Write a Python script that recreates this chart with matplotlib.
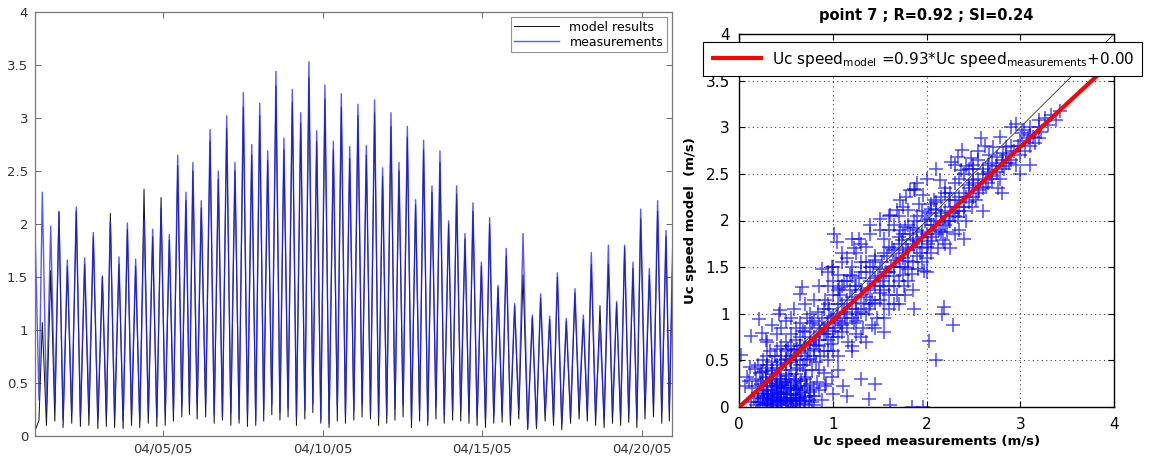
import numpy as np
import matplotlib
matplotlib.use("Agg")
import matplotlib.pyplot as plt
import matplotlib.dates as mdates
from matplotlib.ticker import FuncFormatter, MultipleLocator

plt.rcParams['font.family'] = ['DejaVu Sans']

# ---- time series (hours since 04/01/05 00:00) ----
start_hour = 0.0
start_model = 0.05
start_meas = 1.97

trough_hours = [3.0, 8.6, 14.9, 21.1, 27.6, 34.1, 40.5, 47.2, 53.6, 59.8,
                66.2, 72.5, 78.7, 85.1, 91.5, 97.8, 104.0, 110.3, 116.0, 121.8,
                128.2, 134.6, 140.8, 147.1, 153.3, 159.6, 165.8, 171.8, 177.9, 184.0,
                190.1, 196.4, 202.7, 208.7, 214.7, 220.9, 227.1, 233.2, 239.5, 245.7,
                252.0, 258.1, 264.2, 270.4, 276.5, 282.8, 288.9, 295.0, 301.2, 307.4,
                313.7, 319.8, 326.0, 332.1, 338.4, 344.6, 350.9, 357.1, 363.4, 370.1,
                376.7, 383.2, 389.5, 395.7, 402.3, 408.7, 414.9, 421.1, 427.5, 433.8,
                439.9, 446.0, 452.1, 458.2, 464.6, 470.8, 476.5]
peak_hours = [5.5, 11.8, 18.0, 24.3, 31.0, 37.3, 43.8, 50.6, 56.6, 63.1,
              69.4, 75.6, 81.9, 88.4, 94.7, 100.9, 107.2, 113.4, 118.6, 124.9,
              131.5, 137.7, 144.0, 150.2, 156.5, 162.8, 168.8, 174.8, 181.0, 187.0,
              193.3, 199.6, 205.8, 211.6, 217.8, 224.1, 230.1, 236.4, 242.6, 248.9,
              255.1, 261.1, 267.4, 273.4, 279.7, 285.9, 291.9, 298.2, 304.2, 310.7,
              316.7, 323.0, 329.0, 335.3, 341.5, 347.8, 354.0, 360.3, 366.6, 373.6,
              379.8, 386.6, 392.4, 399.1, 405.6, 411.9, 417.9, 424.4, 430.7, 436.9,
              442.9, 449.2, 455.0, 461.5, 467.7, 474.0, 479.0]

meas_peaks = [2.30, 1.98, 2.11, 1.66, 2.16, 1.68, 1.92, 1.51, 2.02, 1.69,
              2.01, 1.67, 2.05, 1.95, 2.15, 1.90, 2.65, 2.30, 2.58, 2.22,
              2.89, 2.50, 3.02, 2.58, 3.24, 2.75, 3.14, 2.69, 3.44, 2.81,
              3.27, 3.05, 3.53, 2.88, 3.31, 2.78, 3.23, 2.73, 3.13, 2.74,
              3.17, 2.53, 3.05, 2.58, 2.92, 2.23, 2.79, 2.36, 2.69, 2.03,
              2.36, 1.91, 2.20, 1.64, 2.06, 1.42, 1.77, 1.25, 1.91, 1.14,
              1.34, 1.13, 1.54, 1.11, 1.39, 1.14, 1.73, 1.05, 1.80, 1.27,
              1.80, 1.64, 2.14, 1.58, 2.22, 1.94, 1.78]
model_peaks = [1.07, 1.56, 2.12, 1.60, 2.12, 1.62, 1.88, 1.50, 2.10, 1.62,
               1.95, 1.60, 2.33, 1.88, 2.25, 1.85, 2.55, 2.22, 2.50, 2.15,
               2.78, 2.42, 2.90, 2.50, 3.10, 2.65, 3.02, 2.60, 3.30, 2.70,
               3.15, 2.95, 3.38, 2.78, 3.18, 2.70, 3.10, 2.62, 3.02, 2.65,
               3.05, 2.45, 2.92, 2.50, 2.82, 2.18, 2.70, 2.30, 2.58, 2.00,
               2.28, 1.86, 2.12, 1.60, 2.00, 1.40, 1.70, 1.23, 1.52, 1.12,
               1.30, 1.10, 1.50, 1.08, 1.35, 1.10, 1.62, 1.23, 1.62, 1.25,
               1.78, 1.58, 2.05, 1.52, 2.12, 1.88, 1.70]
meas_troughs = [0.34, 0.28, 0.30, 0.16, 0.22, 0.18, 0.26, 0.17, 0.21, 0.19,
                0.15, 0.20, 0.14, 0.22, 0.18, 0.24, 0.25, 0.28, 0.30, 0.32,
                0.30, 0.20, 0.18, 0.22, 0.16, 0.20, 0.14, 0.25, 0.30, 0.22,
                0.26, 0.18, 0.24, 0.30, 0.15, 0.12, 0.28, 0.20, 0.24, 0.30,
                0.22, 0.18, 0.20, 0.26, 0.30, 0.16, 0.24, 0.14, 0.28, 0.20,
                0.24, 0.26, 0.22, 0.18, 0.16, 0.20, 0.22, 0.18, 0.25, 0.08,
                0.10, 0.22, 0.18, 0.12, 0.20, 0.28, 0.24, 0.20, 0.16, 0.22,
                0.18, 0.22, 0.16, 0.28, 0.30, 0.24, 0.26]
model_troughs = [0.15, 0.10, 0.14, 0.08, 0.12, 0.09, 0.10, 0.07, 0.09, 0.08,
                 0.07, 0.10, 0.08, 0.12, 0.09, 0.10, 0.14, 0.18, 0.20, 0.16,
                 0.18, 0.12, 0.15, 0.10, 0.12, 0.09, 0.10, 0.14, 0.20, 0.15,
                 0.18, 0.10, 0.16, 0.22, 0.12, 0.08, 0.14, 0.12, 0.15, 0.18,
                 0.16, 0.10, 0.12, 0.15, 0.18, 0.08, 0.14, 0.10, 0.16, 0.12,
                 0.15, 0.14, 0.12, 0.10, 0.08, 0.12, 0.13, 0.10, 0.16, 0.06,
                 0.07, 0.14, 0.10, 0.06, 0.12, 0.16, 0.14, 0.10, 0.08, 0.12,
                 0.10, 0.13, 0.08, 0.16, 0.18, 0.12, 0.14]

scatter_meas = [
    0.18, 0.22, 0.25, 0.27, 0.30, 0.31, 0.33, 0.34, 0.36, 0.37, 0.38, 0.40, 0.41, 0.42,
    0.44, 0.45, 0.46, 0.47, 0.48, 0.50, 0.51, 0.52, 0.54, 0.55, 0.57, 0.58, 0.60, 0.62,
    0.63, 0.65, 0.67, 0.69, 0.70, 0.72, 0.74, 0.76, 0.78, 0.80, 0.29, 0.26, 0.23, 0.20,
    0.16, 0.14, 0.12, 0.33, 0.39, 0.43, 0.35, 0.28, 0.49, 0.53, 0.58, 0.61, 0.66, 0.71,
    0.40, 0.44, 0.31, 0.52, 0.36, 0.48, 0.56, 0.64, 0.85, 0.88, 0.92, 0.83, 0.18, 0.24,
    0.02, 0.08, 0.11, 0.13, 0.21, 0.24, 0.28, 0.35, 0.42, 0.43, 0.30, 0.40, 0.45, 0.50,
    0.55, 0.60, 0.62, 0.66, 0.70, 0.73, 0.76, 0.80, 0.82, 0.86, 0.90, 0.93, 0.95, 0.98,
    0.50, 0.55, 0.60, 0.52, 0.45, 0.38, 0.33, 0.25, 0.20, 0.17, 0.22, 0.29, 0.58, 0.54,
    0.65, 0.68, 0.72, 0.75, 0.78, 0.84, 0.88, 0.62, 0.68, 0.72, 0.78, 0.82, 0.86, 0.90,
    0.93, 0.99, 0.95, 0.98, 0.67, 0.65, 0.58, 0.50, 0.40, 0.06, 0.10,
    1.00, 1.02, 1.04, 1.05, 1.07, 1.08, 1.10, 1.12, 1.13, 1.15, 1.16, 1.18, 1.20, 1.22,
    1.23, 1.25, 1.27, 1.28, 1.30, 1.32, 1.33, 1.35, 1.37, 1.38, 1.40, 1.42, 1.43, 1.45,
    1.47, 1.48, 1.50, 1.52, 1.53, 1.55, 1.57, 1.58, 1.60, 1.62, 1.63, 1.65, 1.67, 1.68,
    1.70, 1.72, 1.00, 0.99, 0.88, 1.01, 1.04, 0.95, 1.00, 1.05, 1.10, 1.15, 1.20, 1.25,
    1.30, 0.92, 0.96, 1.06, 1.12, 1.18, 1.22, 1.28, 1.35, 1.40, 1.45, 1.00, 1.05, 1.20,
    1.25, 1.35, 1.42, 1.55, 1.60, 1.65, 1.11, 1.15, 1.38, 1.61, 1.00, 1.30, 1.45,
    1.72, 1.74, 1.75, 1.77, 1.77, 1.78, 1.80, 1.80, 1.82, 1.82, 1.84, 1.85, 1.86, 1.87,
    1.87, 1.88, 1.90, 1.91, 1.92, 1.93, 1.95, 1.96, 1.98, 2.00, 2.01, 2.03, 2.05, 2.06,
    2.08, 2.08, 2.10, 2.12, 2.13, 2.14, 2.15, 2.17, 2.17, 2.20, 2.22, 2.24, 2.24, 2.26,
    2.28, 2.30, 2.32, 2.33, 2.33, 2.35, 2.37, 2.38, 2.40, 2.42, 2.42, 2.42, 2.45, 2.47,
    2.48, 2.49, 1.50, 1.61, 1.72, 1.68, 1.55, 1.60, 1.65, 1.70, 1.75, 1.76, 1.77, 1.97,
    1.86, 2.18, 2.16, 2.28, 2.02, 2.10, 1.84, 1.96, 1.80, 1.95, 2.05, 2.20,
    2.53, 2.56, 2.58, 2.60, 2.63, 2.65, 2.67, 2.70, 2.71, 2.74, 2.76, 2.78, 2.78, 2.81,
    2.83, 2.85, 2.88, 2.90, 2.93, 2.95, 2.95, 2.98, 3.02, 3.04, 3.05, 3.08, 3.10, 3.13,
    3.16, 3.20, 3.22, 3.26, 3.30, 3.33, 3.38, 3.42, 2.55, 2.62, 2.50, 2.68]
scatter_model = [
    0.02, 0.05, 0.10, 0.03, 0.07, 0.14, 0.02, 0.10, 0.05, 0.18, 0.12, 0.03, 0.08, 0.15,
    0.06, 0.11, 0.02, 0.20, 0.09, 0.05, 0.14, 0.03, 0.10, 0.18, 0.07, 0.13, 0.04, 0.10,
    0.20, 0.06, 0.15, 0.03, 0.11, 0.22, 0.08, 0.16, 0.05, 0.12, 0.22, 0.17, 0.25, 0.15,
    0.10, 0.20, 0.05, 0.28, 0.25, 0.30, 0.35, 0.32, 0.27, 0.33, 0.26, 0.35, 0.28, 0.32,
    0.20, 0.24, 0.10, 0.22, 0.01, 0.16, 0.01, 0.13, 0.18, 0.08, 0.22, 0.27, 0.30, 0.38,
    0.56, 0.32, 0.43, 0.76, 0.94, 0.79, 0.72, 0.88, 1.00, 1.04, 0.45, 0.42, 0.50, 0.47,
    0.55, 0.50, 0.62, 0.58, 0.66, 0.60, 0.70, 0.75, 0.66, 0.80, 0.85, 0.78, 0.90, 0.95,
    0.70, 0.78, 0.85, 0.62, 0.65, 0.55, 0.60, 0.50, 0.45, 0.41, 0.36, 0.39, 0.61, 0.50,
    0.90, 0.82, 0.95, 1.00, 0.90, 1.02, 0.95, 0.42, 0.45, 0.50, 0.40, 0.48, 0.55, 0.36,
    0.25, 0.32, 0.60, 0.68, 1.29, 1.21, 1.05, 0.92, 0.78, 0.22, 0.28,
    0.75, 0.85, 1.00, 1.10, 0.90, 1.20, 0.80, 1.02, 0.95, 1.15, 0.70, 1.25, 1.05, 0.90,
    1.30, 1.12, 1.00, 1.38, 1.20, 0.85, 1.10, 1.45, 1.28, 1.05, 1.35, 1.15, 1.50, 1.30,
    0.95, 1.40, 1.22, 1.55, 1.35, 1.10, 1.45, 1.62, 1.30, 1.50, 1.70, 1.40, 1.58, 1.20,
    1.75, 1.50, 1.50, 1.50, 1.48, 1.86, 1.77, 1.30, 1.35, 1.42, 1.55, 1.60, 1.50, 1.65,
    1.55, 1.15, 1.05, 1.28, 1.35, 1.42, 1.70, 1.80, 1.72, 1.85, 1.62, 0.60, 0.55, 0.65,
    0.78, 0.70, 0.88, 0.95, 1.05, 1.10, 0.23, 0.12, 0.09, 0.02, 0.14, 0.30, 0.25,
    1.90, 1.79, 1.60, 1.93, 1.50, 1.70, 2.11, 1.57, 1.85, 2.33, 1.43, 1.75, 2.00, 1.72,
    2.34, 2.33, 1.90, 1.48, 2.18, 1.65, 1.82, 2.27, 2.00, 1.60, 1.75, 2.08, 2.18, 1.82,
    2.22, 1.95, 2.11, 1.70, 1.90, 2.43, 2.05, 1.79, 1.97, 2.30, 1.88, 2.00, 2.22, 2.63,
    2.08, 1.85, 2.15, 2.04, 2.68, 1.90, 2.54, 2.76, 2.10, 2.00, 2.25, 2.58, 2.35, 2.67,
    2.15, 2.43, 2.02, 2.06, 2.22, 2.11, 1.80, 1.90, 1.95, 2.05, 2.15, 1.30, 1.20, 1.46,
    1.05, 1.07, 1.00, 0.88, 0.71, 0.50, 0.00, 0.00, 1.35, 1.55, 1.65, 1.75,
    2.22, 2.33, 2.88, 2.50, 2.36, 2.60, 2.70, 2.45, 2.79, 2.58, 2.35, 2.90, 2.45, 2.72,
    2.55, 2.79, 2.62, 3.00, 2.74, 2.60, 3.03, 2.80, 2.94, 2.97, 2.75, 2.88, 3.00, 2.90,
    2.83, 3.08, 2.95, 3.10, 3.02, 3.13, 3.08, 3.17, 2.65, 2.80, 2.55, 2.50]

# denser core of the cloud, (measurement, model)
band_points = [
    (0.30, 0.18), (0.30, 0.42), (0.30, 0.55), (0.35, 0.22), (0.35, 0.30), (0.35, 0.48),
    (0.40, 0.33), (0.40, 0.45), (0.40, 0.62), (0.45, 0.28), (0.45, 0.40), (0.45, 0.55),
    (0.50, 0.35), (0.50, 0.52), (0.50, 0.60), (0.55, 0.40), (0.55, 0.48), (0.55, 0.65),
    (0.60, 0.30), (0.60, 0.55), (0.60, 0.72), (0.65, 0.45), (0.65, 0.65), (0.65, 0.75),
    (0.70, 0.40), (0.70, 0.55), (0.70, 0.80), (0.75, 0.52), (0.75, 0.68), (0.75, 0.85),
    (0.80, 0.55), (0.80, 0.62), (0.80, 0.92), (0.85, 0.65), (0.85, 0.72), (0.85, 0.88),
    (0.90, 0.60), (0.90, 0.78), (0.90, 1.05), (0.95, 0.72), (0.95, 0.85), (0.95, 1.10),
    (1.00, 0.82), (1.00, 0.98), (1.00, 1.20), (1.05, 0.75), (1.05, 0.92), (1.05, 1.25),
    (1.10, 0.88), (1.10, 1.10), (1.10, 1.30), (1.15, 0.85), (1.15, 1.00), (1.15, 1.35),
    (1.20, 0.95), (1.20, 1.18), (1.20, 1.40), (1.25, 0.92), (1.25, 1.05), (1.25, 1.30),
    (1.30, 1.02), (1.30, 1.25), (1.30, 1.45), (1.35, 1.00), (1.35, 1.18), (1.35, 1.55),
    (1.40, 1.10), (1.40, 1.25), (1.40, 1.50), (1.45, 1.12), (1.45, 1.38), (1.45, 1.58),
    (1.50, 1.15), (1.50, 1.30), (1.50, 1.48), (1.55, 1.25), (1.55, 1.40), (1.55, 1.65),
    (1.60, 1.20), (1.60, 1.45), (1.60, 1.72), (1.65, 1.30), (1.65, 1.50), (1.65, 1.68),
    (1.70, 1.35), (1.70, 1.60), (1.70, 1.82), (1.75, 1.42), (1.75, 1.65), (1.75, 1.85),
    (1.80, 1.48), (1.80, 1.68), (1.80, 1.95), (1.85, 1.55), (1.85, 1.80), (1.85, 1.92),
    (1.90, 1.62), (1.90, 1.78), (1.90, 2.05), (1.95, 1.70), (1.95, 1.88), (1.95, 2.10),
    (2.00, 1.72), (2.00, 1.85), (2.00, 2.02), (2.05, 1.78), (2.05, 1.95), (2.05, 2.12),
    (2.10, 1.85), (2.10, 2.00), (2.10, 2.20), (2.15, 1.88), (2.15, 2.08), (2.15, 2.25),
    (2.20, 1.95), (2.20, 2.10), (2.20, 2.35), (2.25, 2.00), (2.25, 2.15), (2.25, 2.30),
    (2.30, 2.05), (2.30, 2.22), (2.30, 2.40), (2.35, 2.10), (2.35, 2.25), (2.35, 2.45),
    (2.40, 2.15), (2.40, 2.30), (2.40, 2.50), (2.45, 2.20), (2.45, 2.38), (2.45, 2.55),
    (2.50, 2.25), (2.50, 2.40), (2.50, 2.60), (2.55, 2.30), (2.55, 2.45), (2.60, 2.35),
    (2.60, 2.55), (2.65, 2.40), (2.65, 2.52), (2.70, 2.48), (2.70, 2.62), (2.75, 2.52),
    (2.75, 2.68), (2.80, 2.58), (2.80, 2.65), (2.85, 2.62), (2.85, 2.70), (2.90, 2.65),
    (2.90, 2.80), (3.00, 2.70), (3.00, 2.85), (3.10, 2.80), (3.10, 2.92), (3.20, 2.88),
    (3.20, 3.00),
    (0.20, 0.05), (0.20, 0.12), (0.20, 0.22), (0.25, 0.02), (0.25, 0.14), (0.25, 0.28),
    (0.30, 0.04), (0.30, 0.12), (0.30, 0.26), (0.35, 0.08), (0.35, 0.14), (0.35, 0.40),
    (0.40, 0.06), (0.40, 0.16), (0.40, 0.22), (0.45, 0.04), (0.45, 0.14), (0.45, 0.26),
    (0.50, 0.10), (0.50, 0.20), (0.50, 0.30), (0.55, 0.06), (0.55, 0.14), (0.55, 0.24),
    (0.60, 0.08), (0.60, 0.18), (0.60, 0.28), (0.65, 0.02), (0.65, 0.10), (0.65, 0.22),
    (0.70, 0.06), (0.70, 0.18), (0.70, 0.30), (0.75, 0.12), (0.75, 0.25), (0.80, 0.02),
    (0.80, 0.20),
    (0.30, 0.70), (0.45, 0.85), (0.55, 0.95), (0.70, 1.10), (0.80, 1.15), (0.85, 1.30),
    (0.95, 1.45), (1.10, 1.65), (1.20, 1.80), (1.30, 1.75), (1.40, 1.95), (1.50, 1.90),
    (1.60, 2.05), (1.78, 2.25), (1.90, 2.40), (2.00, 2.45), (2.10, 2.55), (2.30, 2.60),
    (2.55, 2.75),
    (0.60, 0.20), (0.85, 0.40), (0.95, 0.50), (1.05, 0.40), (1.20, 0.60), (1.30, 0.75),
    (1.45, 0.85), (1.55, 0.80), (1.70, 1.10), (1.85, 1.25), (2.00, 1.45), (2.25, 1.70),
    (2.40, 1.80), (2.60, 2.10), (2.80, 2.30), (3.00, 2.50), (3.10, 2.60)]

fit_slope = 0.93
fit_offset = 0.00
point_name = "point 7"
r_value = 0.92
si_value = 0.24

# ---------------------------------------------------------------------------
W, H = 1149, 459
fig = plt.figure(figsize=(W / 100, H / 100), dpi=100)

# left panel: time series
ax1 = fig.add_axes([35 / W, 23 / H, 637 / W, 424 / H])
t0 = np.datetime64('2005-04-01T00:00')

def to_dates(hours):
    return t0 + (np.asarray(hours) * 60).round().astype('timedelta64[m]')

hours = np.concatenate([[start_hour], np.column_stack([trough_hours, peak_hours]).ravel()])
meas = np.concatenate([[start_meas], np.column_stack([meas_troughs, meas_peaks]).ravel()])
model = np.concatenate([[start_model], np.column_stack([model_troughs, model_peaks]).ravel()])
dates = to_dates(hours)

ax1.plot(dates, model, color='#1a1a1a', lw=0.75, label='model results')
ax1.plot(dates, meas, color='#2020ff', lw=1.0, alpha=0.75, label='measurements')
ax1.set_xlim(to_dates(0), to_dates(478.5))
ax1.set_ylim(0, 4)
ax1.xaxis.set_major_locator(mdates.DayLocator(bymonthday=[5, 10, 15, 20]))
ax1.xaxis.set_major_formatter(mdates.DateFormatter('%m/%d/%y'))
ax1.yaxis.set_major_locator(MultipleLocator(0.5))
ax1.yaxis.set_major_formatter(FuncFormatter(lambda v, p: f"{v:g}"))
ax1.tick_params(direction='in', top=True, right=True, length=4, width=0.6,
                color='#555555', labelsize=9.5, labelcolor='#333333', pad=5)
for s in ax1.spines.values():
    s.set_color('#777777')
    s.set_linewidth(0.9)
leg1 = ax1.legend(loc='upper right', fontsize=9, handlelength=3.6, frameon=True,
                  fancybox=False, borderpad=0.3, labelspacing=0.15, handletextpad=0.8,
                  borderaxespad=0.4)
leg1.get_frame().set_edgecolor('#777777')
leg1.get_frame().set_linewidth(0.8)

# right panel: scatter
all_meas = list(scatter_meas) + [p[0] for p in band_points]
all_model = list(scatter_model) + [p[1] for p in band_points]

ax2 = fig.add_axes([739.3 / W, 52 / H, 374.7 / W, 373 / H])
ax2.plot(all_meas, all_model, linestyle='none', marker='+', markersize=10,
         markeredgewidth=1.1, color='#0000ff', alpha=0.7, zorder=2)
ax2.plot([0, 4], [0, 4], color='#333333', lw=0.6, zorder=3)
xs = np.array([0, 4])
fit_line, = ax2.plot(xs, fit_slope * xs + fit_offset, color='#ff0000', lw=3, zorder=4,
                     solid_capstyle='butt')
ax2.set_xlim(0, 4)
ax2.set_ylim(0, 4)
ax2.xaxis.set_major_locator(MultipleLocator(1))
ax2.yaxis.set_major_locator(MultipleLocator(0.5))
ax2.yaxis.set_major_formatter(FuncFormatter(lambda v, p: f"{v:g}"))
ax2.grid(True, linestyle=(0, (1, 3)), color='#444444', lw=0.8)
ax2.tick_params(direction='in', top=True, right=True, length=4, width=0.8,
                labelsize=11, pad=7)
for s in ax2.spines.values():
    s.set_color('black')
    s.set_linewidth(1.0)
ax2.set_title(f"{point_name} ; R={r_value:.2f} ; SI={si_value:.2f}",
              fontsize=10.5, fontweight='bold', pad=10)
ax2.set_xlabel('Uc speed measurements (m/s)', fontsize=9.5, fontweight='bold', labelpad=2)
ax2.set_ylabel('Uc speed model  (m/s)', fontsize=9.5, fontweight='bold', labelpad=6)

label = (r"Uc speed$_{\mathrm{model}}$ =" + f"{fit_slope:.2f}" +
         r"*Uc speed$_{\mathrm{measurements}}$" + f"+{fit_offset:.2f}")
leg2 = ax2.legend([fit_line], [label], loc='upper left',
                  bbox_to_anchor=(703 / W, 1 - 42 / H), bbox_transform=fig.transFigure,
                  fontsize=11, handlelength=3.4, fancybox=False, borderpad=0.5,
                  borderaxespad=0, handletextpad=0.6, framealpha=1)
leg2.get_frame().set_edgecolor('black')
leg2.get_frame().set_linewidth(0.8)
leg2.set_zorder(10)

fig.savefig('out.png', dpi=100)
